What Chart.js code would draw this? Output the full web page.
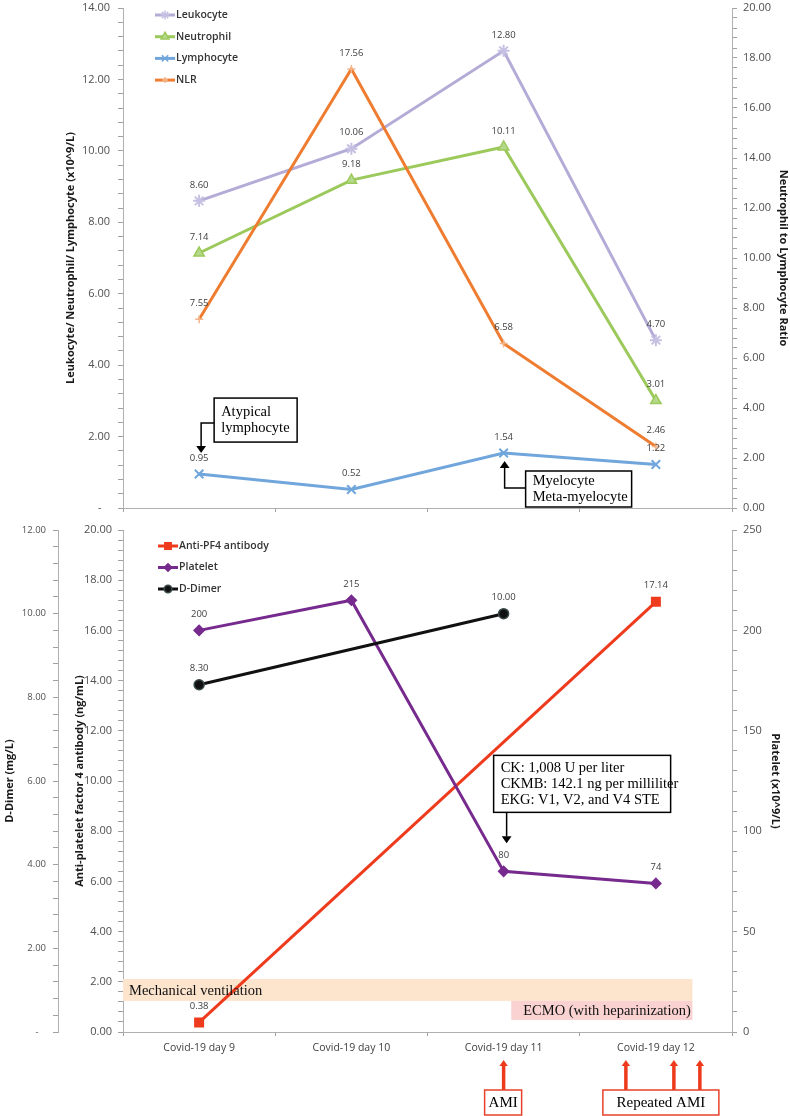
<!DOCTYPE html>
<html>
<head>
<meta charset="utf-8">
<script src="https://cdn.jsdelivr.net/npm/chart.js@4.4.1/dist/chart.umd.min.js"></script>
<style>
  body { margin: 0; background: #fff; }
  canvas { display: block; }
</style>
</head>
<body>
<canvas id="cellChart" width="790" height="516"></canvas>
<canvas id="plateletChart" width="790" height="600"></canvas>
<script>
const days = ['Covid-19 day 9', 'Covid-19 day 10', 'Covid-19 day 11', 'Covid-19 day 12'];

// top panel (x10^9/L, left axis)
const leukocyte = [8.60, 10.06, 12.80, 4.70];
const neutrophil = [7.14, 9.18, 10.11, 3.01];
const lymphocyte = [0.95, 0.52, 1.54, 1.22];
// neutrophil to lymphocyte ratio (right axis)
const nlr = [7.55, 17.56, 6.58, 2.46];

// bottom panel
const antiPF4 = [0.38, null, null, 17.14];
const platelet = [200, 215, 80, 74];
const dDimer = [8.30, null, 10.00, null];

const SANS = "'Open Sans', sans-serif";
const SERIF = "'Liberation Serif', serif";
Chart.defaults.font.family = SANS;
Chart.defaults.color = '#404040';

const AXIS = '#b0b0b0';
const TICK = '#a0a0a0';

function isMajor(v, step) {
  return Math.abs(v / step - Math.round(v / step)) < 1e-6;
}

// fixed box sizes so both panels share the same plot area
function fixBox(w, h) {
  return function (s) {
    if (w !== null) s.width = w;
    if (h !== null) s.height = h;
    s.paddingTop = 0;
    s.paddingBottom = 0;
    s.paddingLeft = 0;
    s.paddingRight = 0;
  };
}

function yAxis(opts) {
  return {
    position: opts.position,
    weight: opts.weight || 0,
    min: opts.min,
    max: opts.max,
    ticks: {
      stepSize: opts.step,
      autoSkip: false,
      padding: opts.pad,
      color: '#505050',
      font: { size: opts.fontSize || 11 },
      callback: opts.format,
    },
    grid: { drawOnChartArea: false, tickLength: 5, color: TICK, tickWidth: 1 },
    border: { color: AXIS },
    title: {
      display: true,
      text: opts.title,
      color: '#1a1a1a',
      font: { size: 11, weight: 'bold' },
      padding: { top: opts.titlePad, bottom: 0 },
    },
    afterFit: fixBox(opts.width, null),
  };
}

const valueLabels = {
  id: 'valueLabels',
  afterDatasetsDraw(chart) {
    const ctx = chart.ctx;
    ctx.save();
    ctx.font = "9.5px " + SANS;
    ctx.fillStyle = '#404040';
    ctx.textAlign = 'center';
    ctx.textBaseline = 'middle';
    chart.data.datasets.forEach((ds, i) => {
      const meta = chart.getDatasetMeta(i);
      meta.data.forEach((pt, j) => {
        const v = ds.data[j];
        if (v === null) return;
        ctx.fillText(v.toFixed(ds.decimals), pt.x, pt.y - 16);
      });
    });
    ctx.restore();
  },
};

const lineLegend = {
  id: 'lineLegend',
  afterDatasetsDraw(chart, args, opts) {
    const ctx = chart.ctx;
    ctx.save();
    chart.data.datasets.forEach((ds, i) => {
      const y = opts.y + i * opts.step;
      ctx.strokeStyle = ds.borderColor;
      ctx.lineWidth = 3;
      ctx.beginPath();
      ctx.moveTo(opts.x, y);
      ctx.lineTo(opts.x + 20, y);
      ctx.stroke();
      ctx.fillStyle = ds.pointBackgroundColor;
      ctx.strokeStyle = ds.pointBorderColor;
      ctx.lineWidth = 1.5;
      Chart.helpers.drawPoint(ctx, {
        pointStyle: ds.pointStyle,
        radius: ds.pointRadius * 0.75,
        rotation: 0,
        borderWidth: 1.5,
      }, opts.x + 10, y);
      ctx.fillStyle = '#333';
      ctx.font = "600 10.5px " + SANS;
      ctx.textAlign = 'left';
      ctx.textBaseline = 'middle';
      ctx.fillText(ds.label, opts.x + 21, y);
    });
    ctx.restore();
  },
};

function noteBox(ctx, x, y, w, h, lines, border, size) {
  ctx.save();
  ctx.fillStyle = '#fff';
  ctx.fillRect(x, y, w, h);
  ctx.strokeStyle = border;
  ctx.lineWidth = 1.5;
  ctx.strokeRect(x, y, w, h);
  ctx.fillStyle = '#000';
  ctx.font = size + "px " + SERIF;
  ctx.textBaseline = 'middle';
  ctx.textAlign = 'left';
  const lh = 16;
  const y0 = y + h / 2 - (lines.length - 1) * lh / 2;
  lines.forEach((t, k) => ctx.fillText(t, x + 7, y0 + k * lh));
  ctx.restore();
}

function centeredBox(ctx, x, y, w, h, text) {
  ctx.save();
  ctx.fillStyle = '#fff';
  ctx.fillRect(x, y, w, h);
  ctx.strokeStyle = '#e8412a';
  ctx.lineWidth = 1.5;
  ctx.strokeRect(x, y, w, h);
  ctx.fillStyle = '#000';
  ctx.font = "15px " + SERIF;
  ctx.textAlign = 'center';
  ctx.textBaseline = 'middle';
  ctx.fillText(text, x + w / 2, y + h / 2 + 1);
  ctx.restore();
}

// polyline ending in an arrow head at the last point
function elbowArrow(ctx, pts, color, width, head) {
  ctx.save();
  ctx.strokeStyle = color;
  ctx.fillStyle = color;
  ctx.lineWidth = width;
  const n = pts.length;
  const [tx, ty] = pts[n - 1];
  const [px, py] = pts[n - 2];
  const dy = Math.sign(ty - py);
  ctx.beginPath();
  ctx.moveTo(pts[0][0], pts[0][1]);
  for (let k = 1; k < n - 1; k++) ctx.lineTo(pts[k][0], pts[k][1]);
  ctx.lineTo(tx, ty - dy * head);
  ctx.stroke();
  ctx.beginPath();
  ctx.moveTo(tx, ty);
  ctx.lineTo(tx - head * 0.7, ty - dy * head);
  ctx.lineTo(tx + head * 0.7, ty - dy * head);
  ctx.closePath();
  ctx.fill();
  ctx.restore();
}

const cellNotes = {
  id: 'cellNotes',
  afterDraw(chart) {
    const ctx = chart.ctx;
    const lym = chart.getDatasetMeta(2).data;
    const a = lym[0];
    const b = lym[2];
    noteBox(ctx, a.x + 15, a.y - 76, 83, 44, ['Atypical', 'lymphocyte'], '#000', 14.5);
    elbowArrow(ctx, [[a.x + 15, a.y - 51], [a.x + 2, a.y - 51], [a.x + 2, a.y - 21]], '#000', 1.5, 7);
    noteBox(ctx, b.x + 22, b.y + 18, 106, 36, ['Myelocyte', 'Meta-myelocyte'], '#000', 14.5);
    elbowArrow(ctx, [[b.x + 22, b.y + 35], [b.x + 1, b.y + 35], [b.x + 1, b.y + 8]], '#000', 1.5, 7);
  },
};

const plateletNotes = {
  id: 'plateletNotes',
  beforeDatasetsDraw(chart) {
    const ctx = chart.ctx;
    const x = chart.scales.x;
    const y = chart.scales.yPF4;
    const at = i => x.getPixelForValue(0) + i * (x.getPixelForValue(1) - x.getPixelForValue(0));
    ctx.save();
    ctx.fillStyle = '#fde4cd';
    ctx.fillRect(at(-0.5), y.getPixelForValue(2.11), at(3.24) - at(-0.5),
      y.getPixelForValue(1.24) - y.getPixelForValue(2.11));
    ctx.fillStyle = '#f9d2d1';
    ctx.fillRect(at(2.05), y.getPixelForValue(1.24), at(3.24) - at(2.05),
      y.getPixelForValue(0.48) - y.getPixelForValue(1.24));
    ctx.restore();
  },
  afterDatasetsDraw(chart) {
    const ctx = chart.ctx;
    const x = chart.scales.x;
    const y = chart.scales.yPF4;
    const at = i => x.getPixelForValue(0) + i * (x.getPixelForValue(1) - x.getPixelForValue(0));
    ctx.save();
    ctx.fillStyle = '#111';
    ctx.font = "14.5px " + SERIF;
    ctx.textBaseline = 'middle';
    ctx.fillText('Mechanical ventilation', at(-0.5) + 6, (y.getPixelForValue(2.11) + y.getPixelForValue(1.24)) / 2 + 1);
    ctx.fillText('ECMO (with heparinization)', at(2.05) + 12, (y.getPixelForValue(1.24) + y.getPixelForValue(0.48)) / 2 + 1);
    ctx.restore();
  },
  afterDraw(chart) {
    const ctx = chart.ctx;
    const p = chart.getDatasetMeta(1).data[2];
    noteBox(ctx, p.x - 10, p.y - 116, 177, 57,
      ['CK: 1,008 U per liter', 'CKMB: 142.1 ng per milliliter', 'EKG: V1, V2, and V4 STE'], '#000', 14.5);
    elbowArrow(ctx, [[p.x + 3, p.y - 59], [p.x + 3, p.y - 28]], '#000', 1.5, 7);

    const bottom = chart.chartArea.bottom;
    const x2 = chart.scales.x.getPixelForValue(2);
    const x3 = chart.scales.x.getPixelForValue(3);
    const red = '#ee3a1c';
    elbowArrow(ctx, [[x2, bottom + 58], [x2, bottom + 28]], red, 3.5, 6);
    [-30, 18, 44].forEach(dx => {
      elbowArrow(ctx, [[x3 + dx, bottom + 58], [x3 + dx, bottom + 28]], red, 3.5, 6);
    });
    centeredBox(ctx, x2 - 19, bottom + 58, 37, 25, 'AMI');
    centeredBox(ctx, x3 - 53, bottom + 58, 116, 25, 'Repeated AMI');
  },
};

function series(label, data, axis, color, style, radius, decimals, order, extra) {
  return Object.assign({
    label: label,
    data: data,
    yAxisID: axis,
    borderColor: color,
    backgroundColor: color,
    borderWidth: 3,
    pointStyle: style,
    pointRadius: radius,
    pointBackgroundColor: color,
    pointBorderColor: color,
    pointBorderWidth: 1.5,
    tension: 0,
    fill: false,
    clip: false,
    decimals: decimals,
    order: order,
  }, extra || {});
}

new Chart(document.getElementById('cellChart'), {
  type: 'line',
  data: {
    labels: days,
    datasets: [
      series('Leukocyte', leukocyte, 'yCell', '#b4abd7', 'star', 6, 2, 4, { pointBorderColor: '#c6c0e2', pointBorderWidth: 2 }),
      series('Neutrophil', neutrophil, 'yCell', '#9cc95b', 'triangle', 6, 2, 3, { pointBackgroundColor: '#b5d98a' }),
      series('Lymphocyte', lymphocyte, 'yCell', '#70a6dc', 'crossRot', 6, 2, 2, { pointBorderWidth: 2 }),
      series('NLR', nlr, 'yRatio', '#ee7d31', 'cross', 4, 2, 1, { pointBorderColor: '#f3b487' }),
    ],
  },
  options: {
    responsive: false,
    animation: false,
    events: [],
    layout: { padding: { top: 8, left: 0, right: 0, bottom: 0 } },
    plugins: {
      legend: { display: false },
      tooltip: { enabled: false },
      lineLegend: { x: 155, y: 15, step: 21.7 },
    },
    scales: {
      x: {
        offset: true,
        grid: { drawOnChartArea: false, offset: true, tickLength: 4, color: TICK },
        border: { color: AXIS },
        ticks: { display: false },
        afterFit: fixBox(null, 8),
      },
      yCell: yAxis({
        position: 'left', min: 0, max: 14, step: 0.4, pad: 8, width: 123, titlePad: 64,
        title: 'Leukocyte/ Neutrophil/ Lymphocyte (x10^9/L)',
        format: v => isMajor(v, 2) ? (v === 0 ? '-   ' : v.toFixed(2)) : '',
      }),
      yRatio: yAxis({
        position: 'right', min: 0, max: 20, step: 0.4, pad: 6, width: 58, titlePad: 0,
        title: 'Neutrophil to Lymphocyte Ratio',
        format: v => isMajor(v, 2) ? v.toFixed(2) : '',
      }),
    },
  },
  plugins: [valueLabels, lineLegend, cellNotes],
});

new Chart(document.getElementById('plateletChart'), {
  type: 'line',
  data: {
    labels: days,
    datasets: [
      series('Anti-PF4 antibody', antiPF4, 'yPF4', '#ef3b1d', 'rect', 6, 2, 3, { spanGaps: true }),
      series('Platelet', platelet, 'yPlatelet', '#772a8e', 'rectRot', 5, 0, 2),
      series('D-Dimer', dDimer, 'yDimer', '#111111', 'circle', 5, 2, 1, { spanGaps: true, pointBorderColor: '#3a4a4a' }),
    ],
  },
  options: {
    responsive: false,
    animation: false,
    events: [],
    layout: { padding: { top: 14, left: 0, right: 0, bottom: 0 } },
    plugins: {
      legend: { display: false },
      tooltip: { enabled: false },
      lineLegend: { x: 158, y: 30, step: 21.5 },
    },
    scales: {
      x: {
        offset: true,
        grid: { drawOnChartArea: false, offset: true, tickLength: 4, color: TICK },
        border: { color: AXIS },
        ticks: { padding: 6, color: '#404040', font: { size: 10.5 } },
        afterFit: fixBox(null, 84),
      },
      yDimer: yAxis({
        position: 'left', weight: 1, min: 0, max: 12, step: 0.4, pad: 7, width: 58, titlePad: 3,
        fontSize: 9.5,
        title: 'D-Dimer (mg/L)',
        format: v => isMajor(v, 2) ? (v === 0 ? '-   ' : v.toFixed(2)) : '',
      }),
      yPF4: yAxis({
        position: 'left', weight: 0, min: 0, max: 20, step: 0.4, pad: 6, width: 65, titlePad: 15,
        title: 'Anti-platelet factor 4 antibody (ng/mL)',
        format: v => isMajor(v, 2) ? v.toFixed(2) : '',
      }),
      yPlatelet: yAxis({
        position: 'right', min: 0, max: 250, step: 10, pad: 6, width: 58, titlePad: 8,
        title: 'Platelet (x10^9/L)',
        format: v => isMajor(v, 50) ? String(v) : '',
      }),
    },
  },
  plugins: [valueLabels, lineLegend, plateletNotes],
});
</script>
</body>
</html>
